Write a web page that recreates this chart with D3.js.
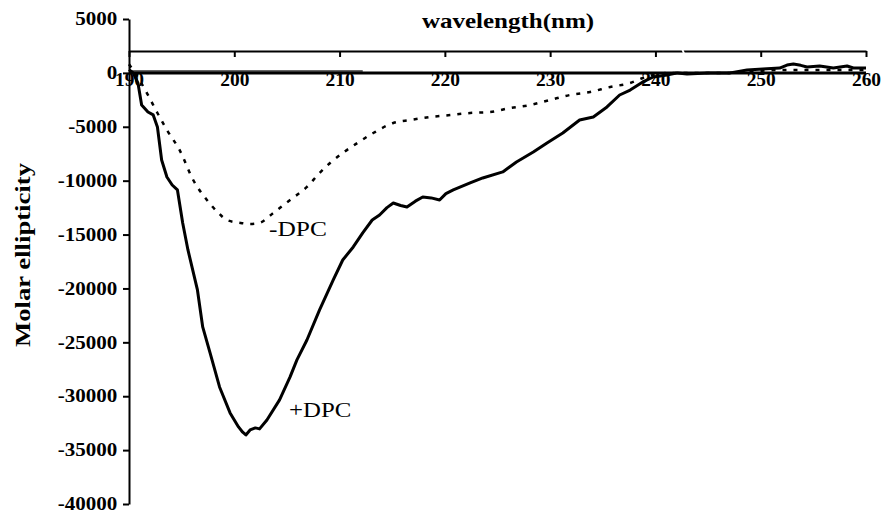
<!DOCTYPE html>
<html>
<head>
<meta charset="utf-8">
<script src="https://cdn.jsdelivr.net/npm/d3@7"></script>
<style>
  body { margin: 0; background: #fff; }
  svg { display: block; }
  text { font-family: "Liberation Serif", "Times New Roman", serif; fill: #000; }
</style>
</head>
<body>
<div id="chart"></div>
<script>
// wavelength (nm) / molar ellipticity
const plusWl = [190, 190.4, 190.85, 191.2, 191.8, 192.3, 192.7, 193.1, 193.6, 194.1, 194.6, 195.1, 195.6,
    196.5, 197.0, 197.7, 198.6, 199.6, 200.4, 200.8, 201.1, 201.5, 202.0, 202.4, 203.1, 204.3, 205.3,
    205.95, 206.9, 208.1, 209.4, 210.3, 211.3, 212.2, 213.1, 213.8, 214.5, 215.1, 215.8, 216.4, 217.2,
    217.9, 218.7, 219.5, 220.1, 220.8, 222.4, 223.6, 225.5, 226.8, 228.4, 229.7, 231.2, 232.8, 234.1,
    235.4, 236.6, 237.6, 238.8, 239.8, 241.1, 242.1, 243.0, 245.0, 247.1, 248.7, 250.2, 251.8, 252.5,
    253.1, 253.8, 254.4, 255.6, 256.9, 258.2, 258.8, 260];
const plusVal = [300, 0, -940, -2980, -3630, -3900, -5020, -8080, -9660, -10400, -10860, -13920, -16430,
    -20140, -23570, -25980, -29140, -31550, -32850, -33340, -33590, -33130, -32940, -33030, -32200, -30340, -28210,
    -26630, -24780, -21990, -19210, -17360, -16150, -14850, -13650, -13180, -12500, -12070, -12300, -12440, -11900,
    -11510, -11600, -11790, -11200, -10860, -10210, -9750, -9190, -8270, -7340, -6500, -5580, -4370, -4090,
    -3160, -2050, -1590, -840, -380, -200, 0, -100, 0, 0, 270, 350, 450, 730,
    830, 700, 550, 640, 450, 640, 450, 450];

const minusWl = [190, 191.0, 191.7, 192.7, 193.6, 194.8, 196.1, 197.4, 198.4, 199.3, 200.6, 201.5, 202.4,
    203.7, 205.3, 206.9, 208.1, 209.1, 210.3, 211.7, 213.2, 215.1, 216.7, 218.6, 220.5, 222.4, 224.3,
    226.2, 228.1, 230.0, 231.9, 233.8, 235.7, 237.6, 238.8, 239.8, 241.1, 247, 251.8, 260];
const minusVal = [800, -660, -1870, -3720, -5300, -7150, -9940, -11790, -12900, -13650, -13920, -14020, -13920,
    -13000, -11790, -10580, -9290, -8360, -7430, -6500, -5580, -4650, -4370, -4090, -3910, -3720, -3630,
    -3260, -2980, -2510, -2050, -1770, -1310, -940, -470, -200, 0, 0, 270, 270];

const xTicks = [190, 200, 210, 220, 230, 240, 250, 260];
const yTicks = [5000, 0, -5000, -10000, -15000, -20000, -25000, -30000, -35000, -40000];

const W = 885, H = 514;
const x = d3.scaleLinear().domain([190, 260]).range([129, 866]);
const y = d3.scaleLinear().domain([-40000, 5000]).range([504, 19]);
const topAxisY = 51;

const svg = d3.select("#chart").append("svg")
    .attr("width", W).attr("height", H)
    .attr("viewBox", `0 0 ${W} ${H}`)
    .style("background", "#fff");

// top axis line with downward ticks, no labels
const gTop = svg.append("g")
    .attr("transform", `translate(0,${topAxisY})`)
    .call(d3.axisBottom(x).tickValues(xTicks).tickSize(6).tickSizeOuter(0).tickFormat(""));
gTop.select(".domain").attr("stroke-width", 2);
gTop.selectAll(".tick line").attr("stroke-width", 2);
// small break in the top line
svg.append("line")
    .attr("x1", 681).attr("y1", 46).attr("x2", 685).attr("y2", 56)
    .attr("stroke", "#fff").attr("stroke-width", 2);

// zero line with the wavelength labels hanging under it
svg.append("line")
    .attr("x1", x(190)).attr("x2", x(212.2))
    .attr("y1", y(0) - 2).attr("y2", y(0) - 2)
    .attr("stroke", "#666").attr("stroke-width", 2);
svg.append("line")
    .attr("x1", x(190)).attr("x2", x(260))
    .attr("y1", y(0)).attr("y2", y(0))
    .attr("stroke", "#000").attr("stroke-width", 3);

const gX = svg.append("g")
    .attr("transform", `translate(0,${y(0)})`)
    .call(d3.axisBottom(x).tickValues(xTicks).tickSize(0).tickPadding(0).tickFormat(d => String(d)));
gX.select(".domain").remove();
gX.selectAll(".tick text")
    .attr("font-size", 18).attr("font-weight", "bold")
    .attr("font-family", "Liberation Serif, serif")
    .attr("transform", "scale(1.08,1)");

// y axis
const gY = svg.append("g")
    .attr("transform", `translate(${x(190)},0)`)
    .call(d3.axisLeft(y).tickValues(yTicks).tickSize(6).tickSizeOuter(0).tickPadding(4)
        .tickFormat(d => String(d)));
gY.select(".domain").attr("stroke-width", 2);
gY.selectAll(".tick line").attr("stroke-width", 2);
gY.selectAll(".tick text")
    .attr("font-size", 18).attr("font-weight", "bold")
    .attr("font-family", "Liberation Serif, serif")
    .attr("transform", "scale(1.17,1)");

// titles
svg.append("text")
    .attr("transform", "translate(508,28) scale(1.19,1)")
    .attr("text-anchor", "middle")
    .attr("font-size", 21).attr("font-weight", "bold")
    .text("wavelength(nm)");
svg.append("text")
    .attr("transform", "translate(30,255) rotate(-90) scale(1.27,1)")
    .attr("text-anchor", "middle")
    .attr("font-size", 21).attr("font-weight", "bold")
    .text("Molar ellipticity");

// curves
const smooth = d3.line().x(d => x(d[0])).y(d => y(d[1])).curve(d3.curveMonotoneX);
const rough = d3.line().x(d => x(d[0])).y(d => y(d[1]));

svg.append("path")
    .datum(d3.zip(minusWl, minusVal))
    .attr("d", smooth)
    .attr("fill", "none").attr("stroke", "#000")
    .attr("stroke-width", 2.5).attr("stroke-dasharray", "4,7");

svg.append("path")
    .datum(d3.zip(plusWl, plusVal))
    .attr("d", rough)
    .attr("fill", "none").attr("stroke", "#000")
    .attr("stroke-width", 3).attr("stroke-linejoin", "round");

// series labels
svg.append("text")
    .attr("transform", `translate(${x(203.3)},${y(-15100)}) scale(1.21,1)`)
    .attr("font-size", 21)
    .text("-DPC");
svg.append("text")
    .attr("transform", `translate(${x(205.2)},${y(-31900)}) scale(1.18,1)`)
    .attr("font-size", 21)
    .text("+DPC");
</script>
</body>
</html>
